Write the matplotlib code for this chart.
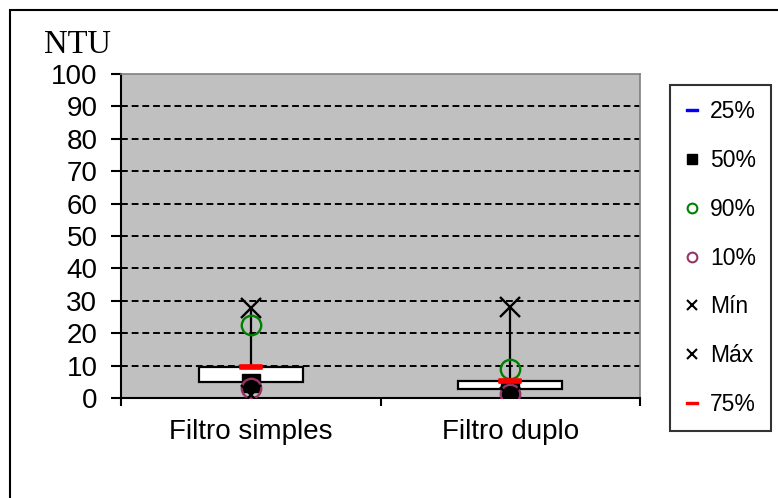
import matplotlib
matplotlib.use("Agg")
import matplotlib.pyplot as plt
import numpy as np
from matplotlib.path import Path
from matplotlib.lines import Line2D
from matplotlib.patches import Rectangle

# Turbidity percentiles per filter type (NTU)
categories = ["Filtro simples", "Filtro duplo"]
p25 = [5.0, 2.7]
p50 = [4.5, 2.1]
p90 = [22.5, 9.1]
p10 = [3.0, 1.2]
v_min = [0.9, 0.4]
v_max = [27.7, 28.1]
p75 = [9.7, 5.2]
y_ticks = list(range(0, 101, 10))

W, H = 778, 498
fig = plt.figure(figsize=(W / 100, H / 100), dpi=100)
plt.rcParams["font.family"] = ["Liberation Sans", "DejaVu Sans"]

# outer frame (left and top edges visible)
fig.add_artist(Rectangle((10 / W, -0.1), 1.2, 1 - 10 / H + 0.1,
                         transform=fig.transFigure, fill=False,
                         edgecolor="black", linewidth=1.5))

ax = fig.add_axes([121 / W, 100 / H, (640 - 121) / W, (398 - 74) / H])
ax.set_facecolor("#C0C0C0")
ax.set_xlim(0, 2)
ax.set_ylim(0, 100)

for y in y_ticks[1:-1]:
    ax.axhline(y, color="black", lw=1.4, ls=(0, (3.5, 2)), zorder=1)

x = np.arange(len(categories)) + 0.5
box_w = 0.4

# whiskers
ax.vlines(x, v_min, v_max, color="black", lw=1.6, zorder=2)
# boxes (25%-75%)
for xi, lo, hi in zip(x, p25, p75):
    ax.add_patch(Rectangle((xi - box_w / 2, lo), box_w, hi - lo,
                           facecolor="white", edgecolor="black", lw=1.6, zorder=3))

rect_marker = Path([(-1, -0.22), (1, -0.22), (1, 0.22), (-1, 0.22), (-1, -0.22)],
                   [Path.MOVETO, Path.LINETO, Path.LINETO, Path.LINETO, Path.CLOSEPOLY])

z = 4
ax.plot(x, p25, ls="none", marker=rect_marker, ms=12, mfc="blue", mec="blue", zorder=z)
ax.plot(x, p50, ls="none", marker="s", ms=13, mfc="black", mec="black", zorder=z + 1)
ax.plot(x, p90, ls="none", marker="o", ms=14, mfc="none", mec="green", mew=1.7, zorder=z + 2)
ax.plot(x, p10, ls="none", marker="o", ms=14, mfc="none", mec="#993366", mew=1.7, zorder=z + 3)
ax.plot(x, v_min, ls="none", marker="x", ms=14, mec="black", mew=1.7, zorder=z + 4)
ax.plot(x, v_max, ls="none", marker="x", ms=14, mec="black", mew=1.7, zorder=z + 5)
ax.plot(x, p75, ls="none", marker=rect_marker, ms=16, mfc="red", mec="red", mew=1.2, zorder=z + 6)

# axes styling
ax.set_yticks(y_ticks)
ax.tick_params(axis="y", direction="out", length=7, width=1.5, pad=10, labelsize=20)
ax.set_xticks([0, 1, 2])
ax.set_xticklabels([])
ax.tick_params(axis="x", which="major", direction="out", length=6, width=1.5)
ax.set_xticks(x, minor=True)
ax.set_xticklabels(categories, minor=True)
ax.tick_params(axis="x", which="minor", length=0, pad=15, labelsize=20)

ax.spines["left"].set_linewidth(1.5)
ax.spines["bottom"].set_linewidth(1.5)
for s in ("top", "right"):
    ax.spines[s].set_color("#808080")
    ax.spines[s].set_linewidth(1.2)

fig.text(44 / W, 1 - 53 / H, "NTU", family="Liberation Serif", fontsize=23.5, va="baseline")

# legend
handles = [
    Line2D([], [], ls="none", marker=rect_marker, ms=8, mfc="blue", mec="blue"),
    Line2D([], [], ls="none", marker="s", ms=7, mfc="black", mec="black"),
    Line2D([], [], ls="none", marker="o", ms=7, mfc="none", mec="green", mew=1.5),
    Line2D([], [], ls="none", marker="o", ms=7, mfc="none", mec="#993366", mew=1.5),
    Line2D([], [], ls="none", marker="x", ms=7, mec="black", mew=1.5),
    Line2D([], [], ls="none", marker="x", ms=7, mec="black", mew=1.5),
    Line2D([], [], ls="none", marker=rect_marker, ms=8, mfc="red", mec="red"),
]
labels = ["25%", "50%", "90%", "10%", "Mín", "Máx", "75%"]
leg = fig.legend(handles, labels, loc="upper left",
                 bbox_to_anchor=(670 / W, 1 - 85 / H), bbox_transform=fig.transFigure,
                 fontsize=16.5, frameon=True, fancybox=False, borderaxespad=0,
                 labelspacing=1.13, handlelength=0.6, handletextpad=0.5,
                 borderpad=0.65)
leg.get_frame().set_edgecolor("black")
leg.get_frame().set_linewidth(1.5)

fig.savefig("out.png", dpi=100)
